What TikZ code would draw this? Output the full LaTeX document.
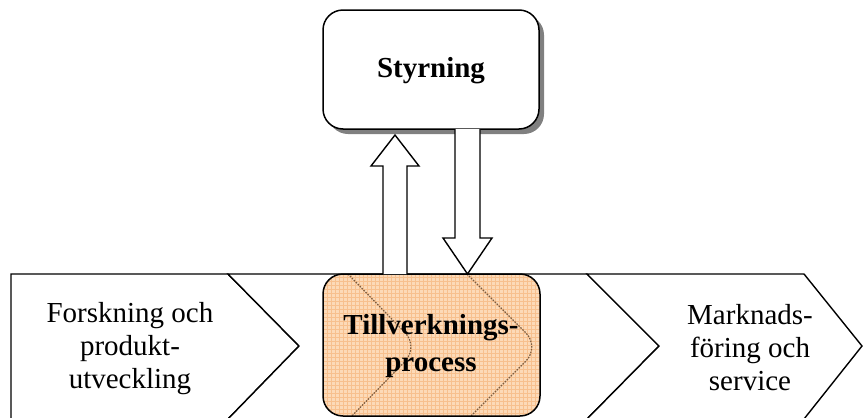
\documentclass[tikz,border=0pt]{standalone}
\usepackage{fontspec}
\setmainfont{Liberation Serif}
\usetikzlibrary{calc,shadows}
\definecolor{procfill}{RGB}{252,218,184}
\definecolor{procgrid}{RGB}{247,192,142}
\definecolor{dotbrown}{RGB}{125,92,62}
\tikzset{
  chev/.style={draw=black, line width=1.4pt, fill=white, line join=miter},
  blockarrow/.style={draw=black, line width=1.4pt, fill=white, line join=miter},
  plaintext/.style={align=center, font=\fontsize{29}{33}\selectfont, inner sep=0pt},
  boldtext/.style={align=center, font=\fontsize{29}{32}\selectfont\bfseries, inner sep=0pt},
  dotline/.style={draw=dotbrown, line width=1.2pt, dash pattern=on 1.6pt off 1.2pt},
}
\begin{document}
\begin{tikzpicture}[x=1pt,y=-1pt]
\useasboundingbox (0,0) rectangle (863,418);
% chevrons
\draw[chev] (11,274) -- (228,274) -- (299,346) -- (228,419) -- (11,419) -- cycle;
\draw[chev] (228,274) -- (587,274) -- (659,346) -- (587,419) -- (228,419) -- (299,346) -- cycle;
\draw[chev] (587,274) -- (804,274) -- (862,346) -- (804,419) -- (587,419) -- (659,346) -- cycle;
% styrning box
\node[draw=black, line width=1.5pt, fill=white, rounded corners=20pt,
      minimum width=216pt, minimum height=119pt, inner sep=0pt,
      drop shadow={shadow xshift=5pt, shadow yshift=-5pt, fill=gray, opacity=1}]
      (styr) at (431,69.5) {};
\node[boldtext] (styrtext) at (431,71) {Styrning};
% process box
\node[draw=black, line width=1.5pt, fill=procfill, rounded corners=20pt,
      minimum width=217pt, minimum height=142pt, inner sep=0pt,
      path picture={
        \draw[procgrid, line width=0.7pt, step=4pt]
          (path picture bounding box.south west) grid (path picture bounding box.north east);
        \draw[dotline] ($(path picture bounding box.north west)+(25,0)$) -- ++(71,73) -- ++(-71,73);
        \draw[dotline] ($(path picture bounding box.north west)+(144,0)$) -- ++(73,73) -- ++(-73,73);
      }]
      (proc) at (431.5,345) {};
\node[boldtext] (proctext) at (431,346) {Tillverknings-\\[5pt]process};
% texts
\node[plaintext] (fou) at (130,349) {Forskning och\\produkt-\\utveckling};
\node[plaintext] (mark) at (750,347.5) {Marknads-\\föring och\\service};
% block arrows
\draw[blockarrow] (383,274) -- (383,166) -- (371,166) -- (395,135) -- (419,166) -- (407,166) -- (407,274);
\draw[blockarrow] (455,129) -- (455,238) -- (443,238) -- (467.5,274) -- (492,238) -- (480,238) -- (480,129);
\end{tikzpicture}
\end{document}
